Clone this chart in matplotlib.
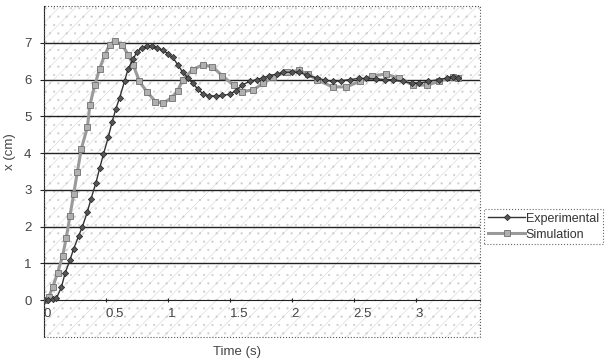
import numpy as np
import matplotlib.pyplot as plt
from matplotlib.patches import Rectangle

plt.rcParams['font.family'] = ['Liberation Sans', 'DejaVu Sans']
plt.rcParams['hatch.linewidth'] = 0.35

t_exp = [0.0, 0.03, 0.07, 0.10, 0.14, 0.17, 0.21, 0.24, 0.28, 0.31, 0.35, 0.38, 0.42,
         0.45, 0.48, 0.52, 0.55, 0.58, 0.61, 0.65, 0.68, 0.72, 0.75, 0.79, 0.83, 0.87,
         0.91, 0.96, 1.00, 1.04, 1.08, 1.12, 1.16, 1.20, 1.24, 1.28, 1.33, 1.39, 1.44,
         1.50, 1.55, 1.60, 1.66, 1.72, 1.77, 1.82, 1.88, 1.93, 2.00, 2.06, 2.12, 2.20,
         2.27, 2.33, 2.40, 2.47, 2.54, 2.60, 2.68, 2.75, 2.82, 2.90, 2.97, 3.03, 3.10,
         3.19, 3.25, 3.30, 3.34]
x_exp = [0.0, 0.0, 0.02, 0.05, 0.35, 0.73, 1.1, 1.4, 1.75, 2.0, 2.4, 2.76, 3.2,
         3.6, 3.97, 4.45, 4.85, 5.2, 5.5, 5.95, 6.3, 6.55, 6.76, 6.85, 6.9, 6.9,
         6.87, 6.8, 6.7, 6.6, 6.4, 6.2, 6.05, 5.9, 5.75, 5.62, 5.56, 5.55, 5.57,
         5.6, 5.7, 5.85, 5.95, 6.0, 6.05, 6.1, 6.15, 6.2, 6.2, 6.2, 6.12, 6.05,
         5.98, 5.95, 5.97, 6.0, 6.03, 6.03, 6.02, 6.0, 6.0, 5.95, 5.9, 5.9, 5.95,
         6.0, 6.04, 6.08, 6.05]

t_sim = [0.0, 0.04, 0.07, 0.11, 0.15, 0.18, 0.21, 0.24, 0.27, 0.30, 0.35, 0.37,
         0.41, 0.45, 0.49, 0.53, 0.57, 0.63, 0.68, 0.72, 0.77, 0.83, 0.90, 0.96,
         1.03, 1.08, 1.12, 1.20, 1.28, 1.36, 1.44, 1.53, 1.60, 1.69, 1.77, 1.85,
         1.96, 2.06, 2.13, 2.20, 2.33, 2.44, 2.55, 2.65, 2.76, 2.87, 2.98, 3.09,
         3.19, 3.30, 3.34]
x_sim = [0.0, 0.1, 0.35, 0.75, 1.2, 1.7, 2.3, 2.9, 3.5, 4.1, 4.7, 5.3,
         5.85, 6.3, 6.67, 6.95, 7.05, 6.95, 6.67, 6.4, 5.95, 5.67, 5.4, 5.35,
         5.5, 5.7, 6.0, 6.27, 6.4, 6.35, 6.1, 5.85, 5.67, 5.72, 5.9, 6.08,
         6.2, 6.25, 6.15, 6.0, 5.8, 5.8, 5.95, 6.1, 6.15, 6.03, 5.85, 5.85,
         5.95, 6.08, 6.03]

fig = plt.figure(figsize=(6.09, 3.62), dpi=100)
ax = fig.add_axes([44/609, 1-337/362, (480-44)/609, (337-6)/362])

# stippled background
ax.add_patch(Rectangle((0, 0), 1, 1, transform=ax.transAxes, facecolor='white',
                       edgecolor='#cfcfcf', hatch='//..', lw=0, zorder=0))

for yv in range(1, 8):
    ax.axhline(yv, color='#222222', lw=1.0, zorder=1)

ax.plot(t_exp, x_exp, color='#333333', lw=1.0, marker='D', ms=3.2,
        mfc='#555555', mec='#222222', mew=0.5, label='Experimental', zorder=4)
ax.plot(t_sim, x_sim, color='#9a9a9a', lw=2.2, marker='s', ms=4.5,
        mfc='#b0b0b0', mec='#707070', mew=0.6, label='Simulation', zorder=3)

ax.set_xlim(0, 3.52)
ax.set_ylim(-1, 8)
ax.set_yticks(range(0, 8))
ax.set_xticks([0, 0.5, 1, 1.5, 2, 2.5, 3])
ax.set_xticklabels(['0', '0.5', '1', '1.5', '2', '2.5', '3'])

ax.spines['bottom'].set_position(('data', 0))
ax.spines['bottom'].set_color('#222222')
ax.spines['left'].set_color('#222222')
ax.spines['top'].set_visible(False)
ax.spines['right'].set_visible(False)
ax.add_patch(Rectangle((0, 0), 1, 1, transform=ax.transAxes, fill=False,
                       edgecolor='#555555', lw=0.8, ls=':', zorder=5, clip_on=False))

ax.tick_params(axis='x', direction='inout', length=3, labelsize=9.5,
               labelcolor='#444444', pad=4, color='#222222')
ax.tick_params(axis='y', direction='out', length=3, labelsize=9.5,
               labelcolor='#444444', pad=6, color='#222222')
for lab in ax.get_xticklabels():
    lab.set_horizontalalignment('left')

fig.text(10/609, 1-152/362, 'x (cm)', rotation=90, ha='center', va='center',
         fontsize=9.5, color='#444444')
fig.text(237/609, 1-352/362, 'Time (s)', ha='center', va='center',
         fontsize=9.5, color='#444444')

leg = fig.legend(loc='upper left', bbox_to_anchor=(484/609, 1-209/362),
                 fontsize=9, frameon=True, fancybox=False, borderpad=0.3,
                 handlelength=3.0, handletextpad=0.05, labelspacing=0.3,
                 borderaxespad=0)
leg.get_frame().set_edgecolor('#444444')
leg.get_frame().set_linestyle(':')
leg.get_frame().set_linewidth(0.8)
for txt in leg.get_texts():
    txt.set_color('#333333')

fig.savefig('out.png', dpi=100)
